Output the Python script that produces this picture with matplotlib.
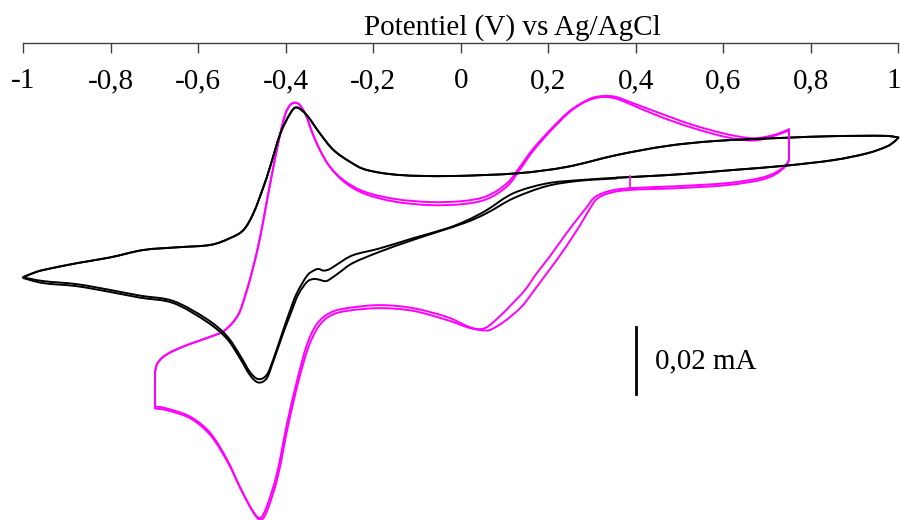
import numpy as np
import matplotlib
matplotlib.use("Agg")
import matplotlib.pyplot as plt
from matplotlib.path import Path
from matplotlib.patches import PathPatch
from matplotlib.transforms import ScaledTranslation

# Potential in V vs Ag/AgCl, current in µA

# black CV: anodic sweep -1 -> 1 V (shared by both cycles)
black_E_anod = [-1.000, -0.977, -0.954, -0.878, -0.802, -0.726, -0.649, -0.573, -0.528, -0.497,
                -0.474, -0.451, -0.436, -0.413, -0.390, -0.375, -0.352, -0.322, -0.291, -0.253,
                -0.215, -0.139, -0.025, 0.128, 0.242, 0.356, 0.471, 0.585, 0.737, 0.851,
                0.966, 1.000]
black_I_anod = [-8.0, -6.8, -5.9, -3.9, -2.2, 0.0, 0.8, 1.5, 3.5, 5.9,
                10.9, 18.7, 24.6, 34.3, 40.4, 42.2, 39.9, 34.5, 29.6, 26.1,
                23.7, 22.2, 21.9, 22.7, 24.6, 28.1, 30.8, 32.3, 33.2, 33.7,
                33.8, 33.3]
# return 1 V -> start potential
black_E_ret = [1.000, 0.992, 0.973, 0.928, 0.851, 0.737, 0.623, 0.509, 0.432, 0.356]
black_I_ret = [33.3, 32.2, 30.6, 28.6, 26.6, 24.9, 23.7, 22.5, 21.9, 21.4]
# cathodic sweeps start potential -> -1 V, cycle 1 and 2
black_E_cath1 = [0.356, 0.272, 0.196, 0.120, 0.059, 0.013, -0.032, -0.109, -0.185, -0.246,
                 -0.281, -0.299, -0.313, -0.326, -0.338, -0.352, -0.375, -0.390, -0.406, -0.429,
                 -0.444, -0.463, -0.482, -0.505, -0.535, -0.581, -0.657, -0.733, -0.802, -0.878,
                 -0.954, -1.000]
black_I_cath1 = [21.4, 20.7, 19.7, 16.8, 11.8, 8.7, 6.4, 3.5, 0.5, -1.5,
                 -4.1, -5.6, -6.1, -5.6, -6.2, -7.7, -12.8, -17.8, -23.7, -32.5,
                 -37.0, -38.2, -36.1, -31.1, -25.4, -20.4, -15.1, -13.5, -11.8, -10.1,
                 -9.2, -8.1]
black_E_cath2 = [0.356, 0.272, 0.196, 0.120, 0.059, 0.006, -0.109, -0.185, -0.246, -0.276,
                 -0.292, -0.308, -0.326, -0.338, -0.352, -0.372, -0.390, -0.406, -0.429, -0.444,
                 -0.463, -0.482, -0.505, -0.535, -0.581, -0.657, -0.733, -0.802, -0.878, -0.954,
                 -1.000]
black_I_cath2 = [21.2, 20.5, 18.9, 15.3, 10.9, 7.9, 3.0, -0.5, -3.8, -6.5,
                 -8.0, -9.2, -8.7, -8.6, -9.5, -13.3, -19.2, -24.6, -33.1, -38.0,
                 -39.2, -37.0, -32.0, -26.2, -21.2, -15.7, -14.1, -12.4, -10.7, -9.8,
                 -8.3]

# magenta CV: anodic sweep -0.7 -> 0.75 V (cycle 1 and 2)
pink_E_up = [-0.699, -0.694, -0.681, -0.658, -0.619, -0.573, -0.539, -0.509, -0.491, -0.475,
             -0.459, -0.445, -0.432, -0.416, -0.402, -0.390, -0.379, -0.368, -0.354, -0.340,
             -0.322, -0.299, -0.265, -0.219, -0.150, -0.070, 0.005, 0.060, 0.106, 0.135,
             0.165, 0.204, 0.243, 0.272, 0.300, 0.327, 0.355, 0.387, 0.455, 0.531,
             0.608, 0.668, 0.714, 0.750]
pink_I_up1 = [-36.1, -33.7, -31.7, -29.9, -27.8, -25.7, -23.7, -19.2, -12.7, -5.3,
              3.6, 13.3, 22.2, 32.5, 39.9, 42.9, 43.6, 42.9, 39.9, 34.9,
              29.6, 24.6, 20.4, 17.2, 15.1, 14.2, 14.5, 16.0, 19.8, 24.6,
              29.9, 35.5, 40.5, 43.2, 45.0, 45.6, 45.3, 43.8, 40.5, 37.0,
              34.3, 33.1, 34.0, 35.7]
pink_I_up2 = [-36.1, -33.7, -31.7, -29.9, -27.8, -25.7, -23.7, -19.2, -12.7, -5.3,
              3.6, 13.3, 22.2, 32.5, 39.9, 42.9, 43.6, 42.9, 39.9, 34.9,
              29.6, 24.6, 20.0, 16.6, 14.3, 13.3, 13.6, 15.1, 18.9, 23.8,
              29.3, 35.1, 40.2, 43.0, 44.7, 45.3, 44.8, 43.2, 39.5, 36.1,
              33.4, 32.4, 33.7, 35.4]
# cathodic sweep 0.75 -> -0.7 V
pink_E_dn1 = [0.750, 0.746, 0.723, 0.684, 0.608, 0.494, 0.387, 0.341, 0.307, 0.288,
              0.272, 0.240, 0.204, 0.174, 0.147, 0.119, 0.090, 0.060, 0.039, 0.014,
              -0.032, -0.109, -0.185, -0.260, -0.299, -0.329, -0.352, -0.374, -0.397, -0.420,
              -0.443, -0.459, -0.477, -0.505, -0.534, -0.573, -0.619, -0.672, -0.699]
pink_I_dn1 = [27.2, 25.7, 23.2, 21.3, 19.8, 18.9, 18.3, 17.5, 15.7, 12.7,
              10.1, 4.7, -1.8, -6.8, -11.8, -15.7, -19.5, -22.8, -23.4, -22.5,
              -19.8, -17.2, -16.3, -17.2, -18.6, -21.9, -28.1, -38.5, -51.2, -66.0,
              -75.7, -79.3, -76.9, -70.1, -62.1, -54.1, -49.3, -46.9, -46.3]
pink_E_dn2 = [0.750, 0.743, 0.720, 0.684, 0.608, 0.494, 0.387, 0.341, 0.311, 0.293,
              0.277, 0.254, 0.224, 0.192, 0.165, 0.138, 0.101, 0.071, 0.055, 0.021,
              -0.032, -0.109, -0.185, -0.260, -0.299, -0.326, -0.349, -0.372, -0.395, -0.418,
              -0.441, -0.457, -0.475, -0.502, -0.532, -0.571, -0.617, -0.669, -0.699]
pink_I_dn2 = [26.6, 24.9, 22.5, 20.7, 19.2, 18.3, 17.8, 16.9, 15.1, 11.8,
              8.3, 3.6, -2.1, -7.7, -12.4, -16.9, -21.0, -23.4, -23.8, -23.1,
              -20.7, -18.0, -17.2, -18.0, -19.5, -22.8, -29.0, -39.3, -52.1, -66.9,
              -76.6, -79.9, -77.5, -71.0, -63.0, -55.0, -49.9, -47.5, -46.9]
# start of the magenta scan
pink_E_start = [0.387, 0.387]
pink_I_start = [21.9, 18.0]

tick_values = [-1, -0.8, -0.6, -0.4, -0.2, 0, 0.2, 0.4, 0.6, 0.8, 1]
tick_labels = ["-1", "-0,8", "-0,6", "-0,4", "-0,2", "0", "0,2", "0,4", "0,6", "0,8", "1"]

scale_bar_uA = 20.0
scale_label = "0,02 mA"
axis_title = "Potentiel (V) vs Ag/AgCl"

plt.rcParams["font.family"] = ["Liberation Serif", "DejaVu Serif"]

MAGENTA = "#ff00ff"
LW = 1.4


def smooth(ax, xs, ys, color):
    # smooth curve through the read points (Catmull-Rom as cubic Bezier)
    pts = np.column_stack([xs, ys]).astype(float)
    n = len(pts)
    verts = [pts[0]]
    codes = [Path.MOVETO]
    for i in range(n - 1):
        p0 = pts[max(i - 1, 0)]
        p1 = pts[i]
        p2 = pts[i + 1]
        p3 = pts[min(i + 2, n - 1)]
        verts += [p1 + (p2 - p0) / 6, p2 - (p3 - p1) / 6, p2]
        codes += [Path.CURVE4] * 3
    ax.add_patch(PathPatch(Path(verts, codes), fill=False, edgecolor=color, lw=LW,
                           capstyle="round", joinstyle="round"))


fig = plt.figure(figsize=(9.01, 5.20), dpi=100)
ax = fig.add_axes([0, 0, 1, 1])
ax.set_xlim(-1.0533, 1.0062)
ax.set_ylim(-79.9, 74.0)

# magenta cycles (drawn first, black on top)
for i_up, e_dn, i_dn in [(pink_I_up1, pink_E_dn1, pink_I_dn1),
                         (pink_I_up2, pink_E_dn2, pink_I_dn2)]:
    smooth(ax, pink_E_up, i_up, MAGENTA)
    smooth(ax, e_dn, i_dn, MAGENTA)
    ax.plot([pink_E_up[-1], e_dn[0]], [i_up[-1], i_dn[0]], color=MAGENTA, lw=LW,
            solid_capstyle="round")
    ax.plot([e_dn[-1], pink_E_up[0]], [i_dn[-1], i_up[0]], color=MAGENTA, lw=LW,
            solid_capstyle="round")
ax.plot(pink_E_start, pink_I_start, color=MAGENTA, lw=1.2)

# black cycles
for e_c, i_c in [(black_E_cath1, black_I_cath1), (black_E_cath2, black_I_cath2)]:
    smooth(ax, e_c, i_c, "black")
    smooth(ax, black_E_anod, black_I_anod, "black")
    smooth(ax, black_E_ret, black_I_ret, "black")

# axis along the top
for s in ["top", "left", "right"]:
    ax.spines[s].set_visible(False)
ax.spines["bottom"].set_position(("data", 61.2))
ax.spines["bottom"].set_bounds(-1, 1)
ax.spines["bottom"].set_color("#404040")
ax.spines["bottom"].set_linewidth(1.0)
ax.set_xticks(tick_values)
ax.set_xticklabels(tick_labels)
ax.tick_params(axis="x", direction="out", length=7.5, width=1.0, color="#404040",
               pad=10.5, labelsize=21)
ax.set_yticks([])
# keep the last label inside the figure
last = ax.get_xticklabels()[-1]
last.set_transform(last.get_transform() + ScaledTranslation(-3 / 72, 0, fig.dpi_scale_trans))

ax.text(0.117, 63.6, axis_title, ha="center", va="baseline", fontsize=21)

# scale bar
ax.plot([0.4005, 0.4005], [-22.7, -22.7 - scale_bar_uA], color="black", lw=2)
ax.text(0.444, -33.1, scale_label, ha="left", va="center", fontsize=21)

fig.savefig("out.png", dpi=100)
